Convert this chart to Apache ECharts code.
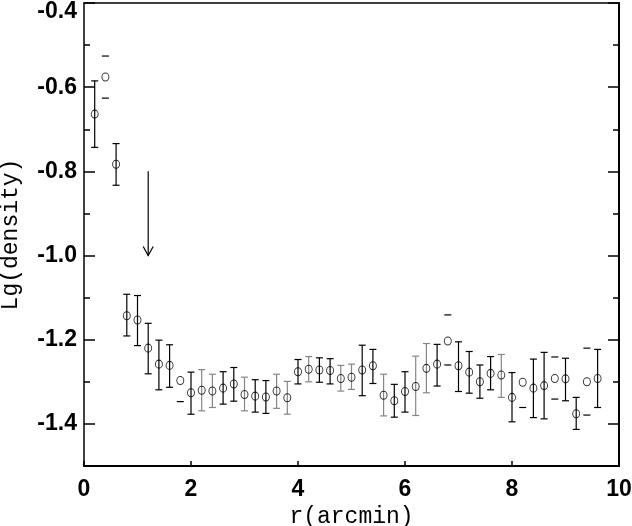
<!DOCTYPE html>
<html>
<head>
<meta charset="utf-8">
<script src="https://cdn.jsdelivr.net/npm/echarts@6/dist/echarts.min.js"></script>
<style>html,body{margin:0;padding:0;background:#fff;}#c{width:632px;height:526px;}</style>
</head>
<body>
<div id="c"></div>
<script>
// radius (arcmin)
const radius = [0.2,0.4,0.6,0.8,1.0,1.2,1.4,1.6,1.8,2.0,2.2,2.4,2.6,2.8,3.0,3.2,3.4,3.6,3.8,4.0,
  4.2,4.4,4.6,4.8,5.0,5.2,5.4,5.6,5.8,6.0,6.2,6.4,6.6,6.8,7.0,7.2,7.4,7.6,7.8,8.0,8.2,8.4,8.6,8.8,9.0,9.2,9.4,9.6];
// Lg(density)
const lgDensity = [-0.664,-0.576,-0.783,-1.143,-1.153,-1.220,-1.258,-1.261,-1.297,-1.326,-1.320,-1.322,-1.315,-1.305,-1.330,-1.334,-1.336,-1.322,-1.338,-1.276,
  -1.270,-1.272,-1.273,-1.292,-1.289,-1.272,-1.262,-1.332,-1.345,-1.323,-1.311,-1.268,-1.258,-1.203,-1.262,-1.277,-1.300,-1.280,-1.284,-1.337,
  -1.301,-1.315,-1.309,-1.292,-1.293,-1.376,-1.300,-1.292];
// upper end of error bar (null = not drawn)
const errHigh = [-0.585,-0.526,-0.734,-1.092,-1.095,-1.161,-1.201,-1.212,null,-1.277,-1.271,-1.282,-1.276,-1.266,-1.289,-1.295,-1.297,-1.282,-1.299,-1.247,
  -1.240,-1.243,-1.245,-1.261,-1.258,-1.213,-1.223,-1.282,-1.306,-1.276,-1.239,-1.209,-1.211,-1.141,-1.205,-1.228,-1.260,-1.240,-1.235,-1.278,
  null,-1.246,-1.230,-1.241,-1.244,-1.337,-1.220,-1.223];
// lower end of error bar
const errLow = [-0.743,-0.626,-0.833,-1.191,-1.214,-1.281,-1.319,-1.313,-1.347,-1.377,-1.369,-1.361,-1.353,-1.346,-1.369,-1.372,-1.375,-1.363,-1.377,-1.305,
  -1.300,-1.301,-1.305,-1.322,-1.318,-1.333,-1.304,-1.381,-1.384,-1.372,-1.380,-1.326,-1.310,-1.260,-1.323,-1.327,-1.339,-1.319,-1.337,-1.395,
  -1.361,-1.385,-1.388,-1.341,-1.345,-1.413,-1.379,-1.361];
// how each error bar appears: 'b' black line, 'g' grey line, 'c' caps only
const barKind = ['b','c','b','b','b','b','b','b','c','b','g','g','b','b','g','b','b','g','g','b',
  'g','b','b','g','g','b','b','g','b','b','g','g','b','c','b','b','b','b','g','b',
  'c','b','b','c','b','b','c','b'];
// arrow marker: [r, from, to]
const arrow = [[1.2, -0.8, -1.0]];
const xTicks = [0, 2, 4, 6, 8, 10];

const chart = echarts.init(document.getElementById('c'), null, {renderer: 'canvas'});
const labelFont = {fontFamily: '"Liberation Sans", Arial, sans-serif', fontWeight: 'bold', fontSize: 23, color: '#000'};
const nameFont = {fontFamily: '"Liberation Mono", "Courier New", monospace', fontSize: 23, color: '#000', fontWeight: 'normal'};

const pts = radius.map((r, i) => [r, lgDensity[i]]);
const bars = radius.map((r, i) => [r, errHigh[i] == null ? NaN : errHigh[i], errLow[i] == null ? NaN : errLow[i], barKind[i]]);

function yLabel(v) {
  if (Math.abs(v + 1.5) < 1e-9) return '';
  const s = v.toFixed(1);
  if (Math.abs(v + 0.4) < 1e-9) return '{t|' + s + '}';
  return s;
}

chart.setOption({
  backgroundColor: '#fff',
  animation: false,
  grid: {left: 84, right: 13, top: 3, bottom: 60, containLabel: false, outerBoundsMode: 'none'},
  xAxis: [{
    type: 'value', min: 0, max: 10, interval: 2,
    position: 'bottom',
    name: 'r(arcmin)', nameLocation: 'middle', nameGap: 36, nameTextStyle: nameFont,
    axisLine: {show: true, onZero: false, lineStyle: {color: '#000', width: 2}},
    axisTick: {show: true, inside: true, length: 5, lineStyle: {color: '#000', width: 1.5}},
    axisLabel: Object.assign({margin: 12, formatter: v => String(v)}, labelFont),
    splitLine: {show: false}
  }, {
    type: 'value', min: 0, max: 10, interval: 2, position: 'top',
    axisLine: {show: true, onZero: false, lineStyle: {color: '#000', width: 1.5}},
    axisTick: {show: false}, axisLabel: {show: false}, splitLine: {show: false}
  }],
  yAxis: [{
    type: 'value', min: -1.5, max: -0.4, position: 'left',
    name: 'Lg(density)', nameLocation: 'middle', nameGap: 62, nameRotate: 90, nameTextStyle: nameFont,
    axisLine: {show: true, onZero: false, lineStyle: {color: '#000', width: 1.5}},
    axisTick: {show: true, inside: true, length: 11, lineStyle: {color: '#000', width: 1.5}},
    minorTick: {show: true, splitNumber: 2, length: 6, lineStyle: {color: '#000', width: 1.5}},
    axisLabel: Object.assign({margin: 7, formatter: yLabel,
      rich: {t: Object.assign({padding: [17, 0, 0, 0]}, labelFont)}}, labelFont),
    splitLine: {show: false}
  }, {
    type: 'value', min: -1.5, max: -0.4, position: 'right',
    axisLine: {show: true, onZero: false, lineStyle: {color: '#000', width: 2}},
    axisTick: {show: true, inside: true, length: 11, lineStyle: {color: '#000', width: 1.5}},
    minorTick: {show: true, splitNumber: 2, length: 6, lineStyle: {color: '#000', width: 1.5}},
    axisLabel: {show: false}, splitLine: {show: false}
  }],
  series: [{
    type: 'custom',
    xAxisIndex: 0, yAxisIndex: 0,
    data: bars,
    clip: false,
    renderItem: function (params, api) {
      const x = api.value(0), hi = api.value(1), lo = api.value(2);
      const kind = bars[params.dataIndex][3];
      const color = kind === 'g' ? '#858585' : '#000';
      const children = [];
      const hw = 3.5;
      const pHi = isNaN(hi) ? null : api.coord([x, hi]);
      const pLo = isNaN(lo) ? null : api.coord([x, lo]);
      const st = {stroke: color, lineWidth: 1.2};
      if (kind !== 'c' && pHi && pLo) {
        children.push({type: 'line', shape: {x1: pHi[0], y1: pHi[1], x2: pLo[0], y2: pLo[1]}, style: st});
      }
      const capColor = kind === 'c' ? '#000' : color;
      [pHi, pLo].forEach(p => {
        if (p) children.push({type: 'line', shape: {x1: p[0] - hw, y1: p[1], x2: p[0] + hw, y2: p[1]}, style: {stroke: capColor, lineWidth: 1.2}});
      });
      return {type: 'group', children: children};
    },
    silent: true, z: 2
  }, {
    type: 'scatter',
    xAxisIndex: 0, yAxisIndex: 0,
    data: pts,
    symbol: 'circle', symbolSize: [7, 8],
    itemStyle: {color: 'rgba(255,255,255,0)', borderColor: '#000', borderWidth: 1},
    silent: true, z: 3
  }, {
    type: 'custom',
    xAxisIndex: 0, yAxisIndex: 0,
    data: arrow,
    renderItem: function (params, api) {
      const x = api.value(0);
      const a = api.coord([x, api.value(1)]);
      const b = api.coord([x, api.value(2)]);
      const st = {stroke: '#000', lineWidth: 1.2, fill: null};
      return {type: 'group', children: [
        {type: 'line', shape: {x1: a[0], y1: a[1], x2: b[0], y2: b[1]}, style: st},
        {type: 'polyline', shape: {points: [[b[0] - 5, b[1] - 9], [b[0], b[1]], [b[0] + 5, b[1] - 9]]}, style: st}
      ]};
    },
    silent: true, z: 2
  }]
});
</script>
</body>
</html>
